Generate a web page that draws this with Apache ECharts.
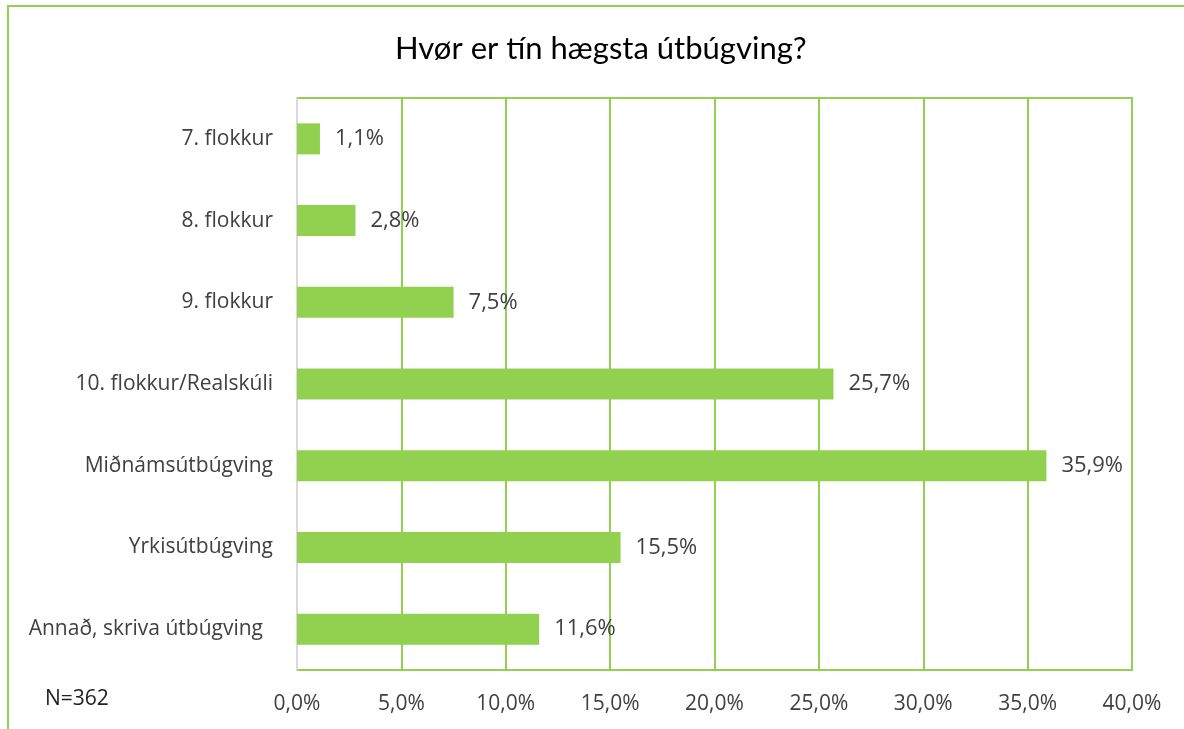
<!DOCTYPE html>
<html>
<head>
    <meta charset="utf-8" />
    <title>Hvør er tín hægsta útbúgving?</title>
    <script src="https://cdn.jsdelivr.net/npm/echarts@6/dist/echarts.min.js"></script>
    <style>
        html, body { margin: 0; padding: 0; background: #fff; }
        #chart { width: 1184px; height: 729px; }
    </style>
</head>
<body>
    <div id="chart"></div>
    <script type="text/javascript">
        var categories = ["7. flokkur", "8. flokkur", "9. flokkur", "10. flokkur/Realskúli", "Miðnámsútbúgving", "Yrkisútbúgving", "Annað, skriva útbúgving"];
        var values = [1.1, 2.8, 7.5, 25.7, 35.9, 15.5, 11.6];
        var axisMin = 0, axisMax = 40, axisStep = 5;

        var green = '#92d050';
        function pct(v) {
            return v.toFixed(1).replace('.', ',') + '%';
        }

        var myChart = echarts.init(document.getElementById("chart"));
        myChart.setOption({
            backgroundColor: '#fff',
            animation: false,
            title: {
                text: 'Hvør er tín hægsta útbúgving?',
                left: 390,
                top: 28,
                textStyle: { fontFamily: 'Lato', fontSize: 31, fontWeight: 'normal', color: '#000' }
            },
            graphic: [
                {
                    type: 'rect',
                    shape: { x: 8, y: 6, width: 1300, height: 900 },
                    style: { fill: 'none', stroke: green, lineWidth: 2 },
                    silent: true
                },
                {
                    type: 'text',
                    left: 45,
                    top: 689,
                    style: { text: 'N=362', font: '21px "Open Sans"', fill: '#222' }
                }
            ],
            grid: {
                left: 297, right: 52, top: 98, bottom: 59,
                show: true, borderColor: green, borderWidth: 2,
                containLabel: false
            },
            xAxis: {
                type: 'value',
                min: axisMin,
                max: axisMax,
                interval: axisStep,
                axisLine: { show: false },
                axisTick: { show: false },
                splitLine: { lineStyle: { color: green, width: 2 } },
                axisLabel: {
                    margin: 24,
                    fontFamily: 'Open Sans', fontSize: 21, color: '#404040',
                    formatter: pct
                }
            },
            yAxis: {
                type: 'category',
                data: categories,
                inverse: true,
                axisLine: { show: true, lineStyle: { color: '#d9d9d9', width: 2 } },
                axisTick: { show: false },
                axisLabel: {
                    margin: 24, fontFamily: 'Open Sans', fontSize: 21, color: '#404040',
                    formatter: function (v, i) {
                        return i === categories.length - 1 ? '{p|' + v + '}' : v;
                    },
                    rich: {
                        p: { fontFamily: 'Open Sans', fontSize: 21, color: '#404040', padding: [0, 10, 0, 0] }
                    }
                }
            },
            series: [{
                type: 'bar',
                data: values,
                barWidth: 31,
                itemStyle: { color: green },
                label: {
                    show: true,
                    position: 'right',
                    distance: 15,
                    fontFamily: 'Open Sans', fontSize: 22, color: '#404040',
                    formatter: function (p) { return pct(p.value); }
                }
            }]
        });
    </script>
</body>
</html>
